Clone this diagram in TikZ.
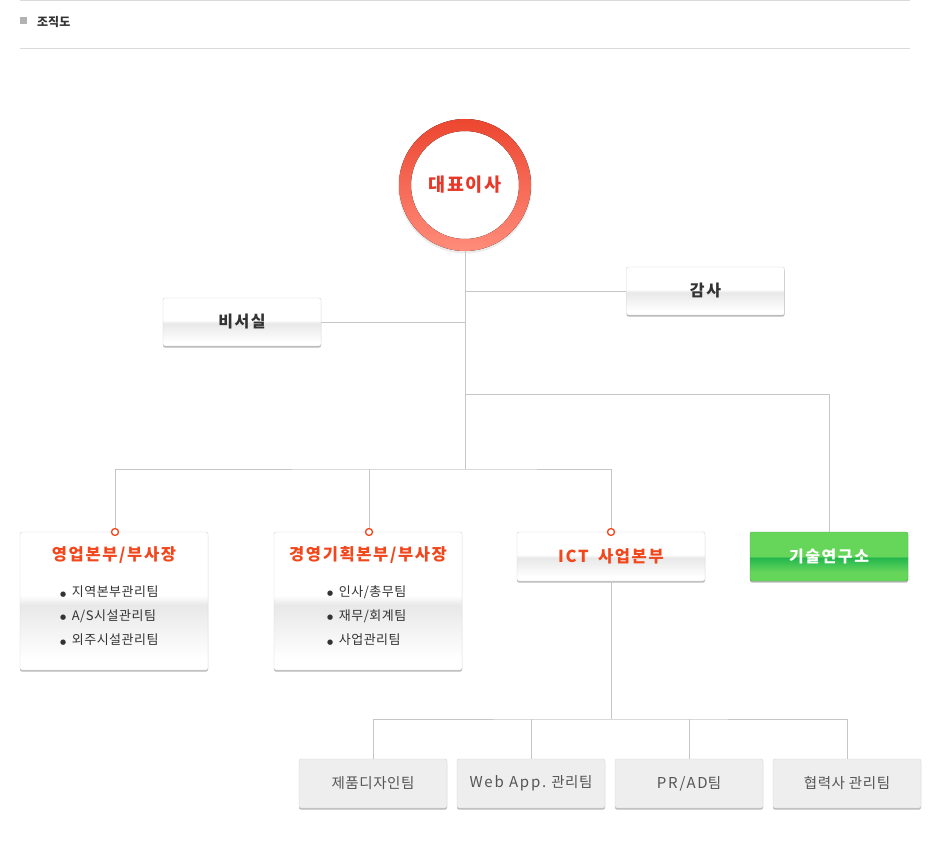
\documentclass[tikz,border=0pt]{standalone}
\usepackage{fontspec}
\setmainfont{Noto Sans CJK KR}
\newfontfamily\krsp[LetterSpace=10]{Noto Sans CJK KR}
\newfontfamily\krs[LetterSpace=4]{Noto Sans CJK KR}
\newfontfamily\latw[LetterSpace=12]{Noto Sans CJK KR}
\newfontfamily\dejavu{DejaVu Sans}
\usetikzlibrary{shadows}
\definecolor{connc}{HTML}{C6C6C6}
\definecolor{rulec}{HTML}{DADADA}
\definecolor{boxline}{HTML}{D2D2D2}
\definecolor{txtdark}{HTML}{333333}
\definecolor{txtgray}{HTML}{555555}
\definecolor{ttlorange}{HTML}{F2471C}
\definecolor{ceored}{HTML}{E8382A}
\definecolor{ringtop}{HTML}{EC4630}
\definecolor{ringbot}{HTML}{FF8C7A}
\definecolor{bandg}{HTML}{E8E8E8}
\definecolor{gtop}{HTML}{66D65B}
\definecolor{gmid}{HTML}{22B64E}
\definecolor{bfill}{HTML}{EEEEEE}
\pgfdeclareverticalshading{wshade}{100bp}{color(0bp)=(white); color(29bp)=(white); color(40bp)=(bandg!55!white); color(48.5bp)=(bandg); color(52bp)=(white); color(100bp)=(white)}
\pgfdeclareverticalshading{gshade}{100bp}{color(0bp)=(gtop); color(25bp)=(gtop); color(34bp)=(gtop); color(49bp)=(gmid); color(50bp)=(gtop); color(100bp)=(gtop)}
\newcommand{\blt}{{\dejavu\fontsize{7}{8}\selectfont\raisebox{0.6pt}{●}}\hspace{5.5pt}}
\tikzset{
  conn/.style={draw=connc, line width=0.8pt},
  shad/.style={drop shadow={shadow xshift=0pt, shadow yshift=-1.6pt, fill=black, opacity=0.28}},
  wbox/.style={draw=boxline, rounded corners=2pt, shading=wshade, shad, inner sep=0pt,
    text=txtdark, font=\krsp\bfseries\fontsize{16}{19}\selectfont},
  gbox/.style={draw=gtop!80!black, rounded corners=2pt, shading=gshade, shad, inner sep=0pt,
    text=white, font=\krsp\bfseries\fontsize{16}{19}\selectfont},
  bbox/.style={draw=boxline, fill=bfill, rounded corners=2pt, shad, inner sep=0pt,
    minimum width=148pt, minimum height=49pt, text=txtgray, font=\krs\fontsize{14.5}{17}\selectfont},
  ttl/.style={text=ttlorange, font=\krsp\bfseries\fontsize{16.5}{19}\selectfont, inner sep=0pt},
  item/.style={text=txtdark, font=\krs\fontsize{13}{15}\selectfont, inner sep=0pt, anchor=west},
  dot/.style={circle, draw=ttlorange, fill=white, line width=1.3pt, minimum size=7pt, inner sep=0pt},
}
\begin{document}
\begin{tikzpicture}[x=1pt, y=-1pt]
\useasboundingbox (0,0) rectangle (930,861);
% header
\draw[draw=rulec, line width=1pt] (20,0.5) -- (910,0.5);
\draw[draw=rulec, line width=1pt] (20,48.5) -- (910,48.5);
\fill[gray!60] (20,17.5) rectangle (27,24.5);
\node[anchor=west, inner sep=0pt, text=txtdark, font=\bfseries\fontsize{12}{14}\selectfont] (hdr) at (37,22) {조직도};
% CEO ring
\node[circle, minimum size=132pt, inner sep=0pt, text=ceored, font=\krsp\bfseries\fontsize{18.5}{21}\selectfont] (ceo) at (465,185) {대표이사};
\fill[gray!30, opacity=0.5, even odd rule] (465,186.5) circle (67pt) (465,186.5) circle (64pt);
\fill[even odd rule, top color=ringtop, bottom color=ringbot] (ceo.center) circle (66pt) (ceo.center) circle (54pt);
% boxes
\node[wbox, minimum width=158pt, minimum height=48pt] (audit) at (705.5,291) {감사};
\node[wbox, minimum width=158pt, minimum height=48pt] (sec) at (242,322) {비서실};
\node[wbox, minimum width=188pt, minimum height=138pt] (sales) at (114,601) {};
\node[wbox, minimum width=188pt, minimum height=138pt] (plan) at (368,601) {};
\node[wbox, minimum width=188pt, minimum height=49pt, text=ttlorange, font=\krsp\bfseries\fontsize{16.5}{19}\selectfont] (ict) at (611,556.5) {ICT\hspace{4pt} 사업본부};
\node[gbox, minimum width=158pt, minimum height=49pt] (lab) at (829,556.5) {기술연구소};
% box contents
\node[ttl] (salesT) at (114,555) {영업본부/부사장};
\node[item] (s1) at (60,592) {\blt 지역본부관리팀};
\node[item] (s2) at (60,616) {\blt A/S시설관리팀};
\node[item] (s3) at (60,640) {\blt 외주시설관리팀};
\node[ttl] (planT) at (368,555) {경영기획본부/부사장};
\node[item] (p1) at (327,592) {\blt 인사/총무팀};
\node[item] (p2) at (327,616) {\blt 재무/회계팀};
\node[item] (p3) at (327,640) {\blt 사업관리팀};
% dots
\node[dot] (d1) at (115,532) {};
\node[dot] (d2) at (369,532) {};
\node[dot] (d3) at (611,532) {};
% bottom boxes
\node[bbox] (b1) at (373,783.5) {제품디자인팀};
\node[bbox] (b2) at (531,783.5) {{\latw\fontsize{15}{17}\selectfont Web App.} 관리팀};
\node[bbox] (b3) at (689,783.5) {{\latw\fontsize{15}{17}\selectfont PR/AD}팀};
\node[bbox] (b4) at (847,783.5) {협력사 관리팀};
% connectors
\coordinate (h1) at (465,469);
\coordinate (h2) at (465,394);
\coordinate (h3) at (611,719);
\draw[conn] (ceo.south) -- (h1);
\draw[conn] (audit.west) -- (audit.west -| h1);
\draw[conn] (sec.east) -- (sec.east -| h1);
\draw[conn] (h2) -| (lab.north);
\draw[conn] (d1.north) |- (h1) -| (d3.north);
\draw[conn] (d2.north) -- (d2.north |- h1);
\draw[conn] (ict.south) -- (h3);
\draw[conn] (b1.north) |- (h3) -| (b4.north);
\draw[conn] (b2.north) -- (b2.north |- h3);
\draw[conn] (b3.north) -- (b3.north |- h3);
\end{tikzpicture}
\end{document}
